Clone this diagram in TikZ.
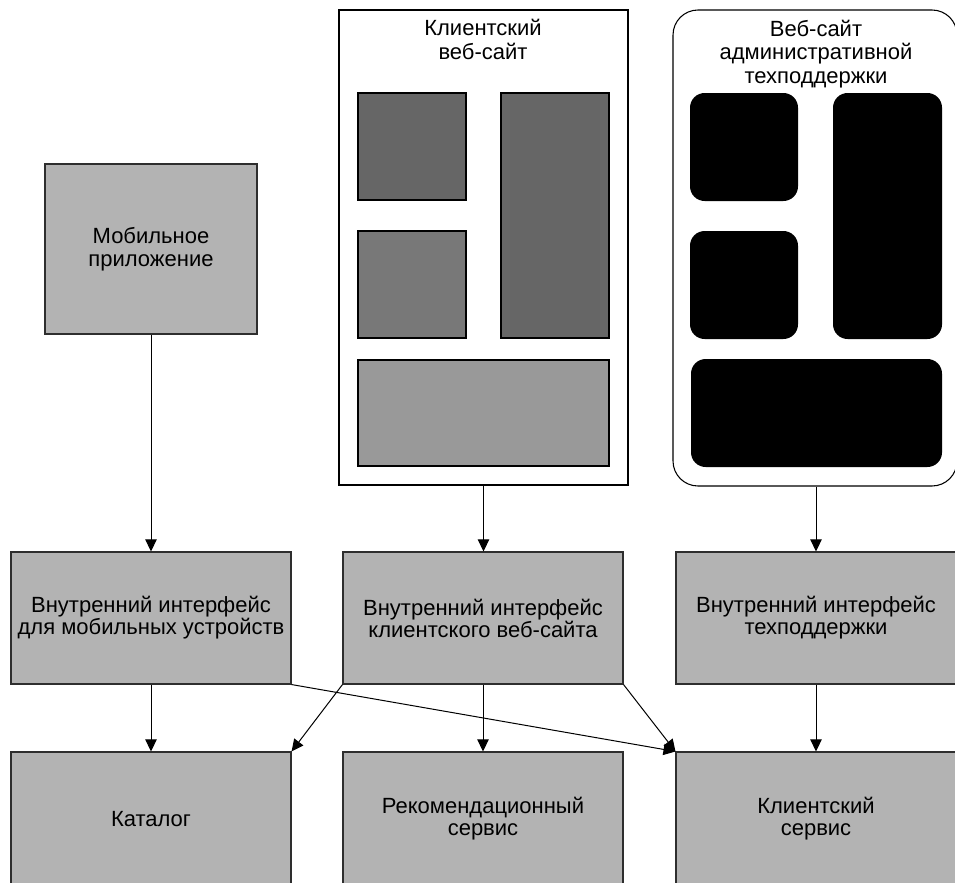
\documentclass[tikz,border=0pt]{standalone}
\usepackage{fontspec}
\setmainfont{Liberation Sans}
\usetikzlibrary{arrows.meta}

\definecolor{boxgray}{HTML}{B3B3B3}
\definecolor{edgegray}{HTML}{2E2E2E}
\definecolor{panedark}{HTML}{666666}
\definecolor{panemid}{HTML}{787878}
\definecolor{panelight}{HTML}{999999}

\tikzset{
  svcbox/.style={draw=edgegray, line width=0.8pt, fill=boxgray, align=center,
    inner sep=0pt, font=\fontsize{16.5}{16.5}\selectfont},
  loosetext/.style={font=\fontsize{16.5}{17}\selectfont},
  sitebox/.style={draw=black, line width=0.8pt, fill=white, inner sep=0pt},
  pane/.style={draw=black, line width=0.8pt},
  blackpane/.style={fill=black, rounded corners=11pt},
  title/.style={align=center, inner sep=0pt, font=\fontsize{16.5}{17.6}\selectfont},
  arr/.style={line width=0.75pt, -{Triangle[length=9pt, width=8.5pt]}}
}

\begin{document}
\begin{tikzpicture}[x=0.75pt, y=-0.75pt]
\useasboundingbox (0,0) rectangle (955,882);

% front ends
\node[svcbox, loosetext, minimum width=159pt, minimum height=127.5pt] (mobile) at (151,249)
  {Мобильное\\приложение};

\node[sitebox, minimum width=216.75pt, minimum height=356.25pt] (cweb) at (483.5,247.5) {};
\node[title, anchor=north] (cwebtitle) at (483,19) {Клиентский\\веб-сайт};
\draw[pane, fill=panedark]  (358,93)  rectangle (466,200);
\draw[pane, fill=panedark]  (501,93)  rectangle (609,338);
\draw[pane, fill=panemid]   (358,231) rectangle (466,338);
\draw[pane, fill=panelight] (358,360) rectangle (609,466);

\node[sitebox, rounded corners=18.75pt, minimum width=213pt, minimum height=357pt] (aweb) at (815,248) {};
\node[title, anchor=north] (awebtitle) at (816,19.5) {Веб-сайт\\административной\\техподдержки};
\fill[blackpane] (690,93)  rectangle (798,201);
\fill[blackpane] (833,93)  rectangle (942,339);
\fill[blackpane] (690,231) rectangle (798,339);
\fill[blackpane] (691,359) rectangle (942,467);

% back ends for front ends
\node[svcbox, minimum width=210pt, minimum height=99pt] (mback) at (151,618)
  {Внутренний интерфейс\\для мобильных устройств};
\node[svcbox, minimum width=210pt, minimum height=99pt] (cback) at (483,618)
  {Внутренний интерфейс\\клиентского веб-сайта};
\node[svcbox, minimum width=210pt, minimum height=99pt] (aback) at (816,618)
  {Внутренний интерфейс\\техподдержки};

% downstream services
\node[svcbox, minimum width=210pt, minimum height=100.5pt] (catalog) at (151,819)
  {Каталог};
\node[svcbox, minimum width=210pt, minimum height=100.5pt] (recs) at (483,819)
  {Рекомендационный\\сервис};
\node[svcbox, minimum width=210pt, minimum height=100.5pt] (customer) at (816,819)
  {Клиентский\\сервис};

% connections
\draw[arr] (mobile.south) -- (mback.north);
\draw[arr] (cweb.south) -- (cweb.south |- cback.north);
\draw[arr] (aweb.south -| aback.north) -- (aback.north);
\draw[arr] (mback.south) -- (catalog.north);
\draw[arr] (mback.south east) -- (customer.north west);
\draw[arr] (cback.south west) -- (catalog.north east);
\draw[arr] (cback.south) -- (recs.north);
\draw[arr] (cback.south east) -- (customer.north west);
\draw[arr] (aback.south) -- (customer.north);
\end{tikzpicture}
\end{document}
